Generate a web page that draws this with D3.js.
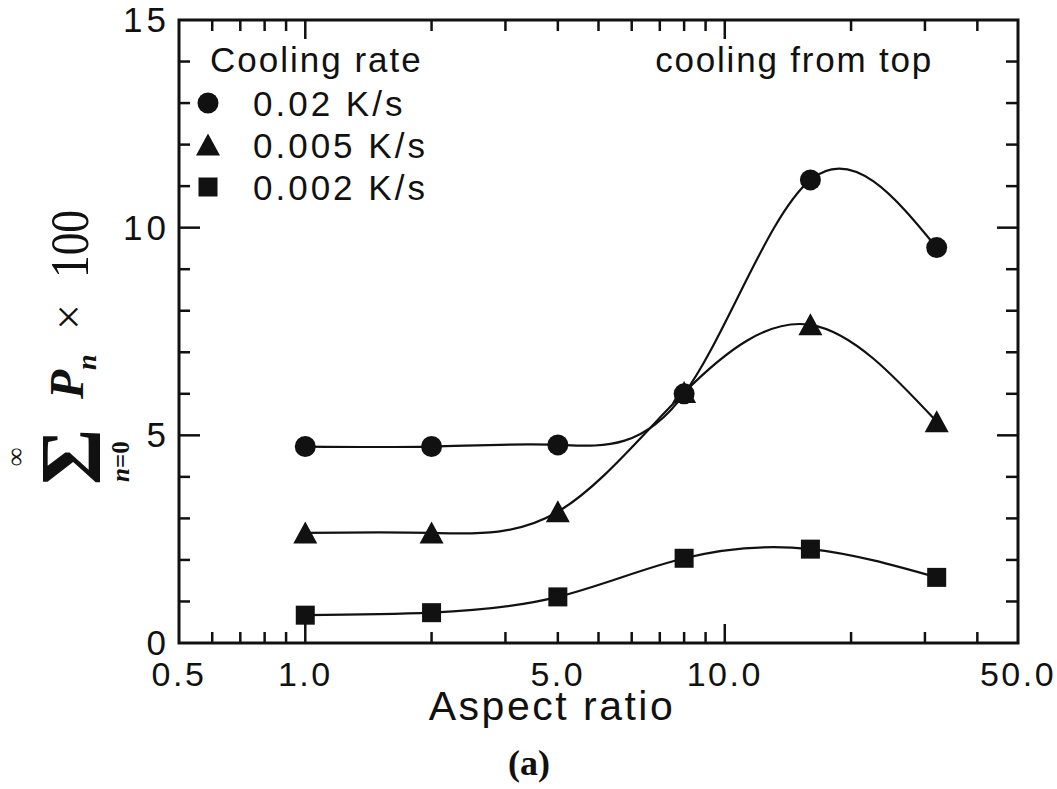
<!DOCTYPE html>
<html>
<head>
<meta charset="utf-8">
<script src="https://cdn.jsdelivr.net/npm/d3@7"></script>
<style>
  html, body { margin: 0; padding: 0; background: #fff; }
  svg { display: block; }
  .sans { font-family: "Liberation Sans", Arial, sans-serif; fill: #111; }
  .serif { font-family: "Liberation Serif", "Times New Roman", serif; fill: #111; }
</style>
</head>
<body>
<svg id="chart" width="1057" height="789"></svg>
<script>
// ---- data ----
const aspectRatios = [1, 2, 4, 8, 16, 32];
const rate002 = [4.73, 4.73, 4.77, 6.0, 11.15, 9.52];   // 0.02 K/s (circles)
const rate0005 = [2.65, 2.65, 3.16, 6.03, 7.66, 5.33];  // 0.005 K/s (triangles)
const rate0002 = [0.67, 0.73, 1.11, 2.04, 2.26, 1.58];  // 0.002 K/s (squares)
const seriesNames = ["0.02 K/s", "0.005 K/s", "0.002 K/s"];
const seriesSymbols = ["circle", "triangle", "square"];
const xTickLabelValues = [0.5, 1, 4, 10, 50];
const xTickLabelTexts = ["0.5", "1.0", "5.0", "10.0", "50.0"];
const xMinorTicks = [0.6, 0.7, 0.8, 0.9, 2, 3, 4, 5, 6, 7, 8, 9, 20, 30, 40];
const xMajorTicks = [1, 10];
const yLabelValues = [0, 5, 10, 15];
const yMinorTicks = [1, 2, 3, 4, 6, 7, 8, 9, 11, 12, 13, 14];

// ---- layout ----
const svg = d3.select("#chart");
const L = 179, R = 1018, T = 20, B = 643;
const x = d3.scaleLog().domain([0.5, 50]).range([L, R]);
const y = d3.scaleLinear().domain([0, 15]).range([B, T]);

// frame
svg.append("rect").attr("x", L).attr("y", T).attr("width", R - L).attr("height", B - T)
  .attr("fill", "none").attr("stroke", "#111").attr("stroke-width", 3);

const tickG = svg.append("g").attr("stroke", "#111").attr("stroke-width", 2.5);
// x ticks bottom & top
xMinorTicks.forEach(v => {
  tickG.append("line").attr("x1", x(v)).attr("x2", x(v)).attr("y1", B).attr("y2", B - 11);
  tickG.append("line").attr("x1", x(v)).attr("x2", x(v)).attr("y1", T).attr("y2", T + 11);
});
xMajorTicks.forEach(v => {
  tickG.append("line").attr("x1", x(v)).attr("x2", x(v)).attr("y1", B).attr("y2", B - 19);
  tickG.append("line").attr("x1", x(v)).attr("x2", x(v)).attr("y1", T).attr("y2", T + 19);
});
// y ticks left & right
yMinorTicks.forEach(v => {
  tickG.append("line").attr("x1", L).attr("x2", L + 11).attr("y1", y(v)).attr("y2", y(v));
  tickG.append("line").attr("x1", R).attr("x2", R - 12).attr("y1", y(v)).attr("y2", y(v));
});
[5, 10].forEach(v => {
  tickG.append("line").attr("x1", L).attr("x2", L + 21).attr("y1", y(v)).attr("y2", y(v));
  tickG.append("line").attr("x1", R).attr("x2", R - 21).attr("y1", y(v)).attr("y2", y(v));
});

// tick labels
xTickLabelValues.forEach((v, i) => {
  svg.append("text").attr("class", "sans").attr("x", x(v)).attr("y", 686)
    .attr("text-anchor", "middle").attr("font-size", 34).attr("letter-spacing", 2.5)
    .text(xTickLabelTexts[i]);
});
yLabelValues.forEach(v => {
  svg.append("text").attr("class", "sans").attr("x", 170).attr("y", y(v) + 12)
    .attr("text-anchor", "end").attr("font-size", 35).attr("letter-spacing", 4)
    .text(v);
});

// axis title
svg.append("text").attr("class", "sans").attr("x", 552).attr("y", 720)
  .attr("text-anchor", "middle").attr("font-size", 41).attr("letter-spacing", 2.5)
  .text("Aspect ratio");
svg.append("text").attr("class", "serif").attr("x", 529).attr("y", 775)
  .attr("text-anchor", "middle").attr("font-size", 36).attr("font-weight", "bold")
  .text("(a)");

// y title (rotated)
const yt = svg.append("g").attr("transform", "translate(88,485) rotate(-90)");
yt.append("text").attr("class", "serif").attr("x", 0).attr("y", 12)
  .attr("font-size", 86).attr("font-weight", "bold").text("Σ");
yt.append("text").attr("class", "serif").attr("x", 28).attr("y", -64)
  .attr("text-anchor", "middle").attr("font-size", 26).attr("font-weight", "bold").text("∞");
const sub = yt.append("text").attr("class", "serif").attr("x", 3).attr("y", 41)
  .attr("font-size", 25).attr("font-weight", "bold");
sub.append("tspan").attr("font-style", "italic").text("n");
sub.append("tspan").text("=0");
yt.append("text").attr("class", "serif").attr("x", 86).attr("y", -5)
  .attr("font-size", 48).attr("font-weight", "bold").attr("font-style", "italic").text("P");
yt.append("text").attr("class", "serif").attr("x", 115).attr("y", 8)
  .attr("font-size", 28).attr("font-weight", "bold").attr("font-style", "italic").text("n");
yt.append("text").attr("class", "serif").attr("x", 155).attr("y", -4)
  .attr("font-size", 46).text("×");
yt.append("text").attr("class", "serif").attr("x", 207).attr("y", 0)
  .attr("font-size", 54).attr("textLength", 68).attr("lengthAdjust", "spacingAndGlyphs")
  .text("100");

// curves
const allSeries = [rate002, rate0005, rate0002];
const line = d3.line().x(d => x(d[0])).y(d => y(d[1])).curve(d3.curveNatural);
allSeries.forEach(vals => {
  const pts = aspectRatios.map((a, i) => [a, vals[i]]);
  svg.append("path").attr("d", line(pts)).attr("fill", "none")
    .attr("stroke", "#111").attr("stroke-width", 2.2);
});

// markers
function drawSymbol(g, type, cx, cy) {
  if (type === "circle") {
    g.append("circle").attr("cx", cx).attr("cy", cy).attr("r", 10.5).attr("fill", "#111");
  } else if (type === "triangle") {
    const s = 24, h = 21;
    g.append("path").attr("d", `M${cx},${cy - h / 2 - 1}L${cx + s / 2},${cy + h / 2}L${cx - s / 2},${cy + h / 2}Z`)
      .attr("fill", "#111");
  } else {
    const s = 19;
    g.append("rect").attr("x", cx - s / 2).attr("y", cy - s / 2).attr("width", s).attr("height", s)
      .attr("fill", "#111");
  }
}
const mg = svg.append("g");
allSeries.forEach((vals, si) => {
  aspectRatios.forEach((a, i) => drawSymbol(mg, seriesSymbols[si], x(a), y(vals[i])));
});

// legend
svg.append("text").attr("class", "sans").attr("x", 210).attr("y", 72)
  .attr("font-size", 35).attr("letter-spacing", 2).text("Cooling rate");
const legendY = [103, 145, 187];
seriesNames.forEach((n, i) => {
  drawSymbol(svg, seriesSymbols[i], 208, legendY[i]);
  svg.append("text").attr("class", "sans").attr("x", 253).attr("y", legendY[i] + 13)
    .attr("font-size", 35).attr("letter-spacing", 3).text(n);
});
svg.append("text").attr("class", "sans").attr("x", 933).attr("y", 72)
  .attr("text-anchor", "end").attr("font-size", 35).attr("letter-spacing", 1.8)
  .text("cooling from top");
</script>
</body>
</html>
